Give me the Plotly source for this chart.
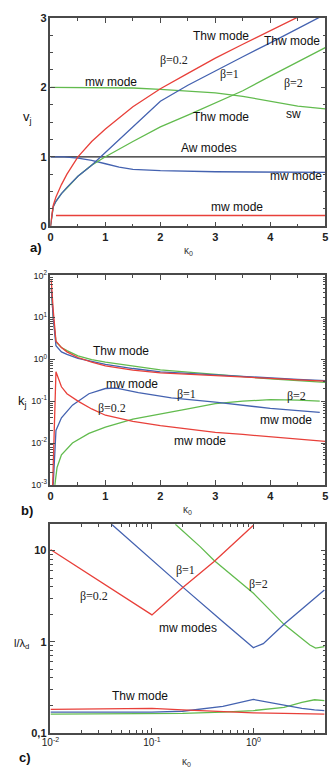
import math
import plotly.graph_objects as go

# ---------------- Panel a : v_j vs kappa0 ----------------
kap_a_red_thw = [0, 0.05, 0.1, 0.2, 0.3, 0.5, 0.75, 1.0, 1.5, 2.0, 2.5, 3.0, 3.5, 4.0, 4.5]
v_a_red_thw = [0, 0.30, 0.42, 0.60, 0.75, 1.0, 1.22, 1.40, 1.72, 1.98, 2.20, 2.42, 2.62, 2.82, 3.01]
kap_a_blue_thw = [0, 0.05, 0.1, 0.2, 0.3, 0.5, 0.75, 0.9, 1.0, 1.5, 2.0, 2.5, 3.0, 3.5, 4.0, 4.5, 4.9]
v_a_blue_thw = [0, 0.28, 0.36, 0.47, 0.56, 0.72, 0.88, 0.99, 1.06, 1.44, 1.80, 2.03, 2.24, 2.44, 2.64, 2.84, 3.01]
kap_a_green_thw = [0, 0.05, 0.1, 0.2, 0.3, 0.5, 0.75, 1.0, 1.5, 2.0, 2.5, 3.0, 3.5, 4.0, 4.5, 5.0]
v_a_green_thw = [0, 0.28, 0.36, 0.47, 0.55, 0.72, 0.88, 1.0, 1.22, 1.43, 1.60, 1.78, 1.95, 2.16, 2.37, 2.57]
kap_a_green_mw = [0, 0.5, 1.0, 1.5, 2.0, 2.5, 3.0, 3.5, 4.0, 4.5, 5.0]
v_a_green_mw = [2.0, 2.0, 2.0, 1.99, 1.97, 1.95, 1.92, 1.87, 1.80, 1.73, 1.69]
kap_a_aw = [0, 5.0]
v_a_aw = [1.0, 1.0]
kap_a_blue_mw = [0, 0.25, 0.5, 0.75, 1.0, 1.25, 1.5, 2.0, 3.0, 4.0, 5.0]
v_a_blue_mw = [1.0, 1.0, 0.98, 0.95, 0.90, 0.85, 0.82, 0.80, 0.785, 0.78, 0.775]
kap_a_red_mw = [0.1, 5.0]
v_a_red_mw = [0.155, 0.155]

# ---------------- Panel b : k_j vs kappa0 (log y) ----------------
kap_b_red_thw = [0.01, 0.02, 0.05, 0.08, 0.1, 0.2, 0.3, 0.5, 0.75, 1.0, 1.5, 2.0, 2.5, 3.0, 3.5, 4.0, 4.5, 5.0]
k_b_red_thw = [80, 60, 15, 5, 2.7, 1.9, 1.5, 1.1, 0.85, 0.69, 0.55, 0.47, 0.44, 0.41, 0.38, 0.35, 0.32, 0.30]
kap_b_blue_thw = [0.01, 0.02, 0.05, 0.08, 0.1, 0.2, 0.3, 0.5, 0.75, 1.0, 1.5, 2.0, 2.5, 3.0, 3.5, 4.0, 4.5, 5.0]
k_b_blue_thw = [50, 40, 10, 4, 2.1, 1.5, 1.3, 1.05, 0.88, 0.75, 0.6, 0.5, 0.46, 0.42, 0.39, 0.36, 0.33, 0.31]
kap_b_green_thw = [0.01, 0.02, 0.05, 0.08, 0.1, 0.2, 0.3, 0.5, 0.75, 1.0, 1.5, 2.0, 2.5, 3.0, 3.5, 4.0, 4.5, 5.0]
k_b_green_thw = [50, 40, 10, 4, 2.6, 1.9, 1.6, 1.2, 0.98, 0.85, 0.68, 0.56, 0.49, 0.43, 0.38, 0.34, 0.31, 0.28]
kap_b_red_mw = [0.04, 0.1, 0.2, 0.3, 0.5, 0.75, 1.0, 1.5, 2.0, 2.5, 3.0, 3.5, 4.0, 4.5, 5.0]
k_b_red_mw = [0.001, 0.5, 0.22, 0.15, 0.10, 0.065, 0.046, 0.033, 0.026, 0.022, 0.018, 0.016, 0.014, 0.0125, 0.011]
kap_b_blue_mw = [0.05, 0.1, 0.2, 0.4, 0.7, 1.0, 1.2, 1.6, 2.2, 3.0, 4.0, 4.9]
k_b_blue_mw = [0.001, 0.02, 0.04, 0.08, 0.15, 0.2, 0.205, 0.16, 0.12, 0.095, 0.067, 0.054]
kap_b_green_mw = [0.08, 0.12, 0.2, 0.4, 0.7, 1.0, 1.5, 2.0, 2.5, 3.0, 3.5, 4.0, 4.5, 4.9]
k_b_green_mw = [0.001, 0.0026, 0.0052, 0.01, 0.017, 0.024, 0.037, 0.05, 0.065, 0.087, 0.1, 0.108, 0.106, 0.1]

# ---------------- Panel c : l/lambda_d vs kappa0 (log-log) ----------------
kap_c_red_mw = [0.01, 0.1, 0.2, 0.41, 1.0]
l_c_red_mw = [10.3, 1.97, 3.9, 7.6, 19.0]
kap_c_blue_mw = [0.04, 0.1, 0.2, 0.5, 0.8, 1.0, 1.25, 2.0, 5.0]
l_c_blue_mw = [19.5, 7.8, 4.0, 1.65, 1.05, 0.86, 0.95, 1.55, 3.7]
kap_c_green_mw = [0.17, 0.3, 0.41, 1.0, 2.0, 3.0, 3.6, 4.1, 5.0]
l_c_green_mw = [19.5, 11.0, 7.8, 3.4, 1.55, 1.08, 0.92, 0.85, 0.88]
kap_c_thw = [0.01, 0.03, 0.1, 0.2, 0.5, 1.0, 2.0, 3.0, 4.0, 5.0]
l_c_red_thw = [0.18, 0.182, 0.185, 0.178, 0.17, 0.165, 0.163, 0.162, 0.161, 0.16]
l_c_blue_thw = [0.168, 0.168, 0.168, 0.172, 0.195, 0.232, 0.2, 0.185, 0.178, 0.175]
l_c_green_thw = [0.16, 0.16, 0.161, 0.163, 0.168, 0.175, 0.19, 0.215, 0.23, 0.225]

RED = "#e8403a"
BLUE = "#4462b0"
GREEN = "#62bb4e"
BLACK = "#222222"

W, H = 335, 780


def px(x):
    return x / W


def py(y):
    return 1 - y / H


fig = go.Figure()


def line(x, y, color, xa, ya):
    fig.add_trace(go.Scatter(x=x, y=y, mode="lines", xaxis=xa, yaxis=ya,
                             line=dict(color=color, width=1.3), showlegend=False,
                             hoverinfo="skip"))


# panel a
line(kap_a_aw, v_a_aw, BLACK, "x", "y")
line(kap_a_red_mw, v_a_red_mw, RED, "x", "y")
line(kap_a_blue_mw, v_a_blue_mw, BLUE, "x", "y")
line(kap_a_green_mw, v_a_green_mw, GREEN, "x", "y")
line(kap_a_green_thw, v_a_green_thw, GREEN, "x", "y")
line(kap_a_blue_thw, v_a_blue_thw, BLUE, "x", "y")
line(kap_a_red_thw, v_a_red_thw, RED, "x", "y")

# panel b
line(kap_b_green_mw, k_b_green_mw, GREEN, "x2", "y2")
line(kap_b_blue_mw, k_b_blue_mw, BLUE, "x2", "y2")
line(kap_b_red_mw, k_b_red_mw, RED, "x2", "y2")
line(kap_b_green_thw, k_b_green_thw, GREEN, "x2", "y2")
line(kap_b_blue_thw, k_b_blue_thw, BLUE, "x2", "y2")
line(kap_b_red_thw, k_b_red_thw, RED, "x2", "y2")

# panel c
line(kap_c_thw, l_c_green_thw, GREEN, "x3", "y3")
line(kap_c_thw, l_c_blue_thw, BLUE, "x3", "y3")
line(kap_c_thw, l_c_red_thw, RED, "x3", "y3")
line(kap_c_green_mw, l_c_green_mw, GREEN, "x3", "y3")
line(kap_c_blue_mw, l_c_blue_mw, BLUE, "x3", "y3")
line(kap_c_red_mw, l_c_red_mw, RED, "x3", "y3")

AX_COLOR = "#4a4a4a"
TICKFONT = dict(family="Liberation Sans, Arial, sans-serif", size=11, color="#222222", weight="bold")
LOGTICKFONT = dict(family="Liberation Sans, Arial, sans-serif", size=9, color="#222222")
common = dict(showline=True, linecolor=AX_COLOR, linewidth=1.5, mirror="allticks",
              ticks="inside", ticklen=5, tickwidth=1, tickcolor=AX_COLOR,
              showgrid=False, zeroline=False)

xdom = [px(43), px(328)]
fig.update_layout(
    width=W, height=H, margin=dict(l=0, r=0, t=0, b=0),
    paper_bgcolor="white", plot_bgcolor="white",
    xaxis=dict(domain=xdom, anchor="y", range=[0, 5], dtick=1, tickfont=TICKFONT,
               minor=dict(dtick=0.5, ticks="inside", ticklen=3, tickcolor=AX_COLOR), **common),
    yaxis=dict(domain=[py(223), py(11)], anchor="x", range=[0, 3], dtick=1, tickfont=TICKFONT,
               minor=dict(dtick=0.25, ticks="inside", ticklen=3, tickcolor=AX_COLOR), **common),
    xaxis2=dict(domain=xdom, anchor="y2", range=[0, 5], dtick=1, tickfont=TICKFONT,
                minor=dict(dtick=0.5, ticks="inside", ticklen=3, tickcolor=AX_COLOR), **common),
    yaxis2=dict(domain=[py(486), py(273)], anchor="x2", type="log", range=[-3, 2],
                tickmode="array", tickvals=[1e-3, 1e-2, 1e-1, 1, 10, 100],
                ticktext=["10<sup>-3</sup>", "10<sup>-2</sup>", "10<sup>-1</sup>",
                          "10<sup>0</sup>", "10<sup>1</sup>", "10<sup>2</sup>"],
                tickfont=LOGTICKFONT,
                minor=dict(dtick="D1", ticks="inside", ticklen=3, tickcolor=AX_COLOR), **common),
    xaxis3=dict(domain=xdom, anchor="y3", type="log", range=[-2, math.log10(5.1)],
                tickmode="array", tickvals=[0.01, 0.1, 1],
                ticktext=["10<sup>-2</sup>", "10<sup>-1</sup>", "10<sup>0</sup>"],
                tickfont=dict(family="Liberation Sans, Arial, sans-serif", size=10, color="#222222"),
                minor=dict(dtick="D1", ticks="inside", ticklen=3, tickcolor=AX_COLOR), **common),
    yaxis3=dict(domain=[py(738), py(526)], anchor="x3", type="log", range=[-1, 1.29],
                tickmode="array", tickvals=[0.1, 1, 10], ticktext=["0,1", "1", "10"],
                tickfont=TICKFONT,
                minor=dict(dtick="D1", ticks="inside", ticklen=3, tickcolor=AX_COLOR), **common),
)

SANS = dict(family="Liberation Sans, Arial, sans-serif", size=12, color="#111111")
SERIF = dict(family="Liberation Serif, Times New Roman, serif", size=12, color="#222222")
ann = []


def lab(text, x, y, xr, yr, font, logx=False, logy=False):
    ann.append(dict(text=text, x=math.log10(x) if logx else x, y=math.log10(y) if logy else y,
                    xref=xr, yref=yr, showarrow=False, font=font,
                    xanchor="center", yanchor="middle"))


# panel a labels
lab("Thw mode", 3.1, 2.74, "x", "y", SANS)
lab("Thw mode", 4.4, 2.67, "x", "y", SANS)
lab("β=0.2", 2.24, 2.4, "x", "y", SERIF)
lab("β=1", 3.25, 2.19, "x", "y", SERIF)
lab("β=2", 4.42, 2.06, "x", "y", SERIF)
lab("mw mode", 1.11, 2.08, "x", "y", SANS)
lab("Thw mode", 3.1, 1.57, "x", "y", SANS)
lab("sw", 4.42, 1.61, "x", "y", SANS)
lab("Aw modes", 2.89, 1.13, "x", "y", SANS)
lab("mw mode", 4.47, 0.72, "x", "y", SANS)
lab("mw mode", 3.4, 0.28, "x", "y", SANS)

# panel b labels
lab("Thw mode", 1.28, 1.55, "x2", "y2", SANS, logy=True)
lab("mw mode", 1.49, 0.26, "x2", "y2", SANS, logy=True)
lab("β=0.2", 1.12, 0.067, "x2", "y2", SERIF, logy=True)
lab("β=1", 2.47, 0.15, "x2", "y2", SERIF, logy=True)
lab("β=2", 4.47, 0.135, "x2", "y2", SERIF, logy=True)
lab("mw mode", 4.28, 0.035, "x2", "y2", SANS, logy=True)
lab("mw mode", 2.72, 0.011, "x2", "y2", SANS, logy=True)

# panel c labels
lab("β=0.2", 0.027, 3.2, "x3", "y3", SERIF, logx=True, logy=True)
lab("mw modes", 0.225, 1.43, "x3", "y3", SANS, logx=True, logy=True)
lab("β=1", 0.215, 6.1, "x3", "y3", SERIF, logx=True, logy=True)
lab("β=2", 1.12, 4.3, "x3", "y3", SERIF, logx=True, logy=True)
lab("Thw mode", 0.077, 0.25, "x3", "y3", SANS, logx=True, logy=True)

# axis titles and panel letters (paper coords)
TITLE = dict(family="Liberation Sans, Arial, sans-serif", size=13, color="#111111")
SMALL = dict(family="Liberation Sans, Arial, sans-serif", size=10, color="#333333")
BOLD = dict(family="Liberation Sans, Arial, sans-serif", size=13, color="#111111")


def plab(text, x, y, font):
    ann.append(dict(text=text, x=px(x), y=py(y), xref="paper", yref="paper", showarrow=False,
                    font=font, xanchor="center", yanchor="middle"))


plab("v<sub>j</sub>", 19, 112, TITLE)
plab("k<sub>j</sub>", 14, 401, TITLE)
plab("l/λ<sub>d</sub>", 13, 648, dict(family="Liberation Sans, Arial, sans-serif", size=11, color="#111111"))
plab("κ<sub>0</sub>", 186, 248, SMALL)
plab("κ<sub>0</sub>", 185, 512, SMALL)
plab("κ<sub>0</sub>", 184, 768, SMALL)
plab("<b>a)</b>", 28, 245, BOLD)
plab("<b>b)</b>", 19, 512, BOLD)
plab("<b>c)</b>", 17, 763, BOLD)

fig.update_layout(annotations=ann)
fig.write_html("out.html", config={"displayModeBar": False},
               post_script="document.body.style.margin='0';document.body.style.overflow='hidden';")
